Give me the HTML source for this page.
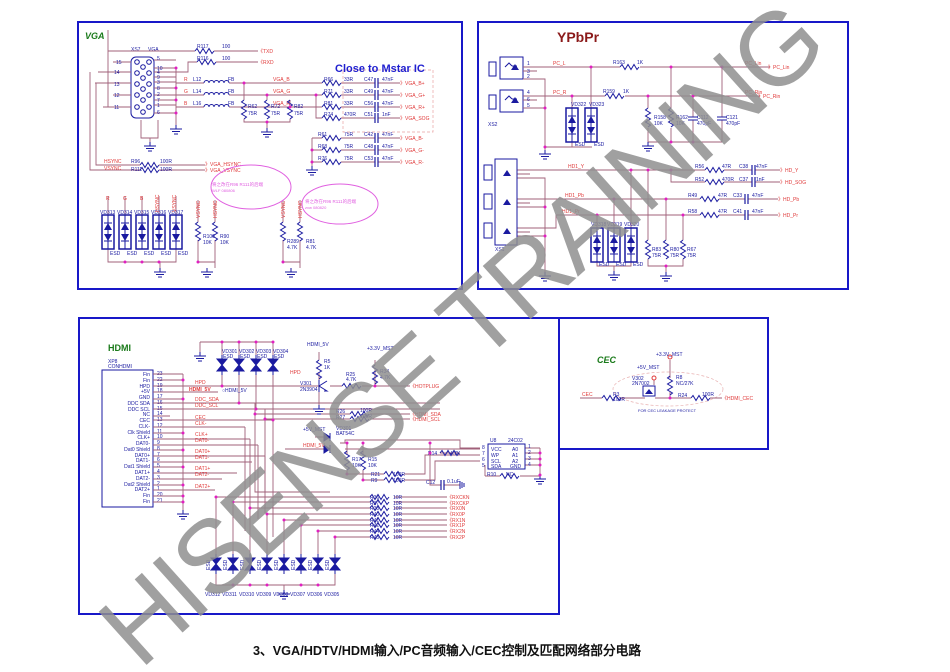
<!DOCTYPE html>
<html><head><meta charset="utf-8"><style>
html,body{margin:0;padding:0;background:#fff;width:950px;height:672px;overflow:hidden}
svg{display:block}
text{font-family:"Liberation Sans",sans-serif}
.t{font-size:5px;fill:#1a1aa0}
.n{font-size:5px;fill:#e03a3a}
.w{fill:none;stroke:#a0607a;stroke-width:0.9}
.b{fill:none;stroke:#1a1aa0;stroke-width:1}
</style></head><body>
<svg width="950" height="672" viewBox="0 0 950 672" xmlns="http://www.w3.org/2000/svg">
<defs>
<g id="rh"><path d="M0 0 l2 -2.5 l3 5 l3 -5 l3 5 l3 -5 l3 5 l2 -2.5" fill="none" stroke="#1a1aa0" stroke-width="1"/></g>
<g id="rv"><path d="M0 0 l-2.5 2 l5 3 l-5 3 l5 3 l-5 3 l5 3 l-2.5 2" fill="none" stroke="#1a1aa0" stroke-width="1"/></g>
<g id="gnd"><path d="M0 -4v4M-6 0h12M-4 2.5h8M-2 5h4" stroke="#1a1aa0" stroke-width="1"/></g>
<g id="esd"><rect x="-6" y="0" width="12" height="34" fill="none" stroke="#1a1aa0" stroke-width="1.5"/><path d="M0 0v34M-4 8h8M-4 26h8" stroke="#1a1aa0"/><path d="M-4 15l4 -7l4 7z M-4 19l4 7l4 -7z" fill="#1a1aa0"/></g>
<g id="bt"><path d="M-5 0h10l-10 12h10z" fill="#1a1aa0" stroke="#1a1aa0"/><path d="M0 -4v20" stroke="#1a1aa0"/></g>
<g id="cap"><path d="M0 -5v10M3 -5v10" stroke="#1a1aa0" stroke-width="1.2"/></g>
<g id="ind"><path d="M0 0 a2.5 2.5 0 0 1 5 0 a2.5 2.5 0 0 1 5 0 a2.5 2.5 0 0 1 5 0 a2.5 2.5 0 0 1 5 0 a2.5 2.5 0 0 1 5 0" fill="none" stroke="#1a1aa0"/></g>
<g id="jk"><rect x="0" y="0" width="23" height="22" fill="none" stroke="#1a1aa0"/><path d="M5 10l4 -4l3 3M12 9l5 0" stroke="#1a1aa0" fill="none"/><path d="M11 13l4 -6l4 6z" fill="#1a1aa0"/><rect x="-11" y="5" width="7" height="14" fill="none" stroke="#1a1aa0"/></g>
</defs>

<!-- ===== Frames ===== -->
<rect x="78" y="22" width="384" height="267" fill="none" stroke="#1818c8" stroke-width="2"/>
<rect x="478" y="22" width="370" height="267" fill="none" stroke="#1818c8" stroke-width="2"/>
<rect x="79" y="318" width="480" height="296" fill="none" stroke="#1818c8" stroke-width="2"/>
<path d="M559 318H768V449H559" fill="none" stroke="#1818c8" stroke-width="2"/>

<!-- ===== VGA ===== -->
<text x="85" y="39" font-size="9" font-weight="bold" font-style="italic" fill="#1a7a1a">VGA</text>
<text x="131" y="51" class="t">XS7</text><text x="148" y="51" class="t">VGA</text>
<rect x="131" y="57" width="23" height="61" rx="5" class="b"/>
<g fill="none" stroke="#1a1aa0">
<circle cx="137" cy="62" r="2.3"/><circle cx="137" cy="73" r="2.3"/><circle cx="137" cy="84" r="2.3"/><circle cx="137" cy="95" r="2.3"/><circle cx="137" cy="107" r="2.3"/>
<circle cx="143" cy="67" r="2.3"/><circle cx="143" cy="78" r="2.3"/><circle cx="143" cy="89" r="2.3"/><circle cx="143" cy="100" r="2.3"/><circle cx="143" cy="112" r="2.3"/>
<circle cx="149" cy="62" r="2.3"/><circle cx="149" cy="73" r="2.3"/><circle cx="149" cy="84" r="2.3"/><circle cx="149" cy="95" r="2.3"/><circle cx="149" cy="107" r="2.3"/>
</g>
<g class="w">
<path d="M113 62H131M98 72H131M95 83H131M113 95H131M103 107H131"/>
<path d="M108 107V30M108 51H195M214 51H258"/>
<path d="M154 60H176M154 68H176M154 72H188V62H197M216 62H258M154 77H176M154 82H176M154 88H176M154 95H176M154 100H176M154 105H176M154 113H176M176 68V125"/>
<path d="M176 83H204M229 83H322M341 83H375M378 83H400"/>
<path d="M176 95H204M229 95H322M341 95H375M378 95H400"/>
<path d="M176 107H204M229 107H322M341 107H375M378 107H400"/>
<path d="M316 95V118H322M341 118H375M378 118H400"/>
<path d="M244 83V100M267 95V100M290 107V100M244 119V122H290V119M267 122V128"/>
<path d="M312 138V166M312 138H322M341 138H375M378 138H400M312 150H322M341 150H375M378 150H400M312 162H322M341 162H375M378 162H400"/>
<path d="M96 83V165H140M159 165H205M90 72V170H140M159 170H205"/>
<path d="M141 120V138H158V120M150 138V142"/>
<path d="M108 196V215M125 196V215M142 196V215M159 196V215M176 196V215M108 249V262H176V249M160 262V268"/>
<path d="M198 200V222M198 240V262M215 200V222M215 240V262M198 262H215V268"/>
<path d="M283 200V222M283 240V262M300 200V222M300 240V262M283 262H300V268"/>
</g>
<g class="t"><text x="116" y="64">15</text><text x="114" y="74">14</text><text x="114" y="86">13</text><text x="114" y="97">12</text><text x="114" y="109">11</text>
<text x="157" y="60">5</text><text x="157" y="70">10</text><text x="157" y="74">4</text><text x="157" y="79">9</text><text x="157" y="84">3</text><text x="157" y="90">8</text><text x="157" y="96">2</text><text x="157" y="102">7</text><text x="157" y="107">1</text><text x="157" y="114">6</text>
<text x="197" y="48">R117</text><text x="222" y="48">100</text><text x="197" y="60">R116</text><text x="222" y="60">100</text>
<text x="193" y="81">L12</text><text x="228" y="81">FB</text><text x="193" y="93">L14</text><text x="228" y="93">FB</text><text x="193" y="105">L16</text><text x="228" y="105">FB</text>
<text x="324" y="81">R66</text><text x="344" y="81">33R</text><text x="364" y="81">C47</text><text x="382" y="81">47nF</text>
<text x="324" y="93">R71</text><text x="344" y="93">33R</text><text x="364" y="93">C49</text><text x="382" y="93">47nF</text>
<text x="324" y="105">R81</text><text x="344" y="105">33R</text><text x="364" y="105">C56</text><text x="382" y="105">47nF</text>
<text x="324" y="116">R74</text><text x="344" y="116">470R</text><text x="364" y="116">C51</text><text x="382" y="116">1nF</text>
<text x="318" y="136">R61</text><text x="344" y="136">75R</text><text x="364" y="136">C42</text><text x="382" y="136">47nF</text>
<text x="318" y="148">R68</text><text x="344" y="148">75R</text><text x="364" y="148">C48</text><text x="382" y="148">47nF</text>
<text x="318" y="160">R76</text><text x="344" y="160">75R</text><text x="364" y="160">C53</text><text x="382" y="160">47nF</text>
<text x="248" y="108">R62</text><text x="248" y="115">75R</text><text x="271" y="108">R72</text><text x="271" y="115">75R</text><text x="294" y="108">R82</text><text x="294" y="115">75R</text>
<text x="131" y="163">R96</text><text x="160" y="163">100R</text><text x="131" y="171">R111</text><text x="160" y="171">100R</text>
<text x="100" y="214">VD313</text><text x="117" y="214">VD314</text><text x="134" y="214">VD315</text><text x="151" y="214">VD316</text><text x="168" y="214">VD317</text>
<text x="110" y="255">ESD</text><text x="127" y="255">ESD</text><text x="144" y="255">ESD</text><text x="161" y="255">ESD</text><text x="178" y="255">ESD</text>
<text x="203" y="238">R100</text><text x="203" y="244">10K</text><text x="220" y="238">R90</text><text x="220" y="244">10K</text>
<text x="287" y="243">R289</text><text x="287" y="249">4.7K</text><text x="306" y="243">R81</text><text x="306" y="249">4.7K</text>
</g>
<g class="n"><text x="184" y="81">R</text><text x="184" y="93">G</text><text x="184" y="105">B</text>
<text x="273" y="81">VGA_B</text><text x="273" y="93">VGA_G</text><text x="273" y="105">VGA_R</text>
<text x="258" y="53">《TXD</text><text x="258" y="64">《RXD</text>
<text x="400" y="85">》VGA_B+</text><text x="400" y="97">》VGA_G+</text><text x="400" y="109">》VGA_R+</text><text x="400" y="120">》VGA_SOG</text>
<text x="400" y="140">》VGA_B-</text><text x="400" y="152">》VGA_G-</text><text x="400" y="164">》VGA_R-</text>
<text x="104" y="163">HSYNC</text><text x="104" y="170">VSYNC</text>
<text x="205" y="166">》VGA_HSYNC</text><text x="205" y="172">》VGA_VSYNC</text>
<text x="106" y="200">R</text><text x="123" y="200">G</text><text x="140" y="200">B</text>
</g>
<g font-size="5" fill="#e03a3a"><text transform="translate(159,212) rotate(-90)">HSYNC</text><text transform="translate(176,212) rotate(-90)">VSYNC</text>
<text transform="translate(200,218) rotate(-90)">VSYNC</text><text transform="translate(217,218) rotate(-90)">HSYNC</text>
<text transform="translate(285,218) rotate(-90)">VSYNC</text><text transform="translate(302,218) rotate(-90)">HSYNC</text></g>
<g><use href="#ind" x="204" y="83"/><use href="#ind" x="204" y="95"/><use href="#ind" x="204" y="107"/>
<use href="#rh" x="195" y="51"/><use href="#rh" x="197" y="62"/>
<use href="#rh" x="322" y="83"/><use href="#rh" x="322" y="95"/><use href="#rh" x="322" y="107"/><use href="#rh" x="322" y="118"/>
<use href="#rh" x="322" y="138"/><use href="#rh" x="322" y="150"/><use href="#rh" x="322" y="162"/>
<use href="#cap" x="375" y="83"/><use href="#cap" x="375" y="95"/><use href="#cap" x="375" y="107"/><use href="#cap" x="375" y="118"/>
<use href="#cap" x="375" y="138"/><use href="#cap" x="375" y="150"/><use href="#cap" x="375" y="162"/>
<use href="#rv" x="244" y="100"/><use href="#rv" x="267" y="100"/><use href="#rv" x="290" y="100"/>
<use href="#rh" x="140" y="165"/><use href="#rh" x="140" y="170"/>
<use href="#esd" x="108" y="215"/><use href="#esd" x="125" y="215"/><use href="#esd" x="142" y="215"/><use href="#esd" x="159" y="215"/><use href="#esd" x="176" y="215"/>
<use href="#rv" x="198" y="222"/><use href="#rv" x="215" y="222"/><use href="#rv" x="283" y="222"/><use href="#rv" x="300" y="222"/>
<use href="#gnd" x="176" y="129"/><use href="#gnd" x="150" y="146"/><use href="#gnd" x="267" y="132"/><use href="#gnd" x="312" y="170"/>
<use href="#gnd" x="160" y="272"/><use href="#gnd" x="207" y="272"/><use href="#gnd" x="291" y="272"/></g>
<g fill="#e020c0"><circle cx="176" cy="68" r="1.5"/><circle cx="176" cy="88" r="1.5"/><circle cx="176" cy="100" r="1.5"/><circle cx="176" cy="113" r="1.5"/>
<circle cx="244" cy="83" r="1.5"/><circle cx="267" cy="95" r="1.5"/><circle cx="290" cy="107" r="1.5"/><circle cx="267" cy="122" r="1.5"/><circle cx="316" cy="95" r="1.5"/>
<circle cx="312" cy="150" r="1.5"/><circle cx="312" cy="162" r="1.5"/><circle cx="125" cy="262" r="1.5"/><circle cx="142" cy="262" r="1.5"/><circle cx="159" cy="262" r="1.5"/><circle cx="198" cy="262" r="1.5"/><circle cx="283" cy="262" r="1.5"/></g>
<rect x="343" y="70" width="90" height="62" fill="none" stroke="#e8a0a0" stroke-dasharray="3,2" stroke-width="0.7"/>
<text x="335" y="72" font-family="Liberation Mono,monospace" font-size="11" font-weight="bold" fill="#2020d0">Close to Mstar IC</text>
<ellipse cx="251" cy="187" rx="40" ry="22" fill="none" stroke="#e060e0"/>
<ellipse cx="340" cy="204" rx="38" ry="20" fill="none" stroke="#e060e0"/>
<text x="212" y="186" font-family="Noto Sans CJK SC,sans-serif" font-size="4.5" fill="#e060e0">将之改在R96 R111的后端</text>
<text x="212" y="192" font-size="4" fill="#e060e0">WLF 080806</text>
<text x="305" y="203" font-family="Noto Sans CJK SC,sans-serif" font-size="4.5" fill="#e060e0">将之改在R96 R111的后端</text>
<text x="305" y="209" font-size="4" fill="#e060e0">zxw 080820</text>

<!-- ===== YPbPr ===== -->
<text x="557" y="42" font-family="Liberation Serif,serif" font-size="14" font-weight="bold" fill="#8b1a1a">YPbPr</text>
<use href="#jk" x="500" y="57"/><use href="#jk" x="500" y="90"/>
<text x="488" y="126" class="t">XS2</text>
<g class="w">
<path d="M523 67H620M640 67H770M523 71H537M523 79H545V150M523 96H605M625 96H760M523 100H537M523 108H545"/>
<path d="M545 147H592M591 67V108M572 96V108M572 142V147"/>
<path d="M648 96V108M648 128V142H722M671 67V108M671 128V142M693 96V117M693 120V142M722 67V117M722 120V142"/>
<path d="M517 170H705M724 170H752M755 170H780M671 170V182H705M724 182H752M755 182H780"/>
<path d="M517 199H700M719 199H745M748 199H778M517 228H556V215H700M719 215H745M748 215H778"/>
<path d="M517 174H530M517 178H545V272M517 203H530M517 207H545M517 232H530M517 236H545"/>
<path d="M597 215V228M614 199V228M631 170V228M597 262V266H631V262M614 266V271"/>
<path d="M648 170V240M648 259V266H683V259M666 199V240M683 215V240M666 266V272"/>
</g>
<rect x="495" y="159" width="22" height="86" class="b"/>
<g class="b"><rect x="484" y="165" width="8" height="15"/><rect x="484" y="194" width="8" height="15"/><rect x="484" y="223" width="8" height="15"/></g>
<g fill="#1a1aa0"><path d="M503 176l4 -6l4 6z M503 205l4 -6l4 6z M503 234l4 -6l4 6z"/></g>
<text x="495" y="251" class="t">XS1</text>
<g class="t"><text x="527" y="65">1</text><text x="527" y="73">3</text><text x="527" y="78">2</text><text x="527" y="94">4</text><text x="527" y="101">6</text><text x="527" y="107">5</text>
<text x="613" y="64">R163</text><text x="637" y="64">1K</text><text x="603" y="93">R159</text><text x="623" y="93">1K</text>
<text x="654" y="119">R158</text><text x="654" y="125">10K</text><text x="676" y="119">R162</text><text x="676" y="125">10K</text>
<text x="697" y="119">C112</text><text x="697" y="125">470pF</text><text x="726" y="119">C121</text><text x="726" y="125">470pF</text>
<text x="571" y="106">VD322</text><text x="589" y="106">VD323</text><text x="575" y="146">ESD</text><text x="594" y="146">ESD</text>
<text x="695" y="168">R56</text><text x="722" y="168">47R</text><text x="739" y="168">C38</text><text x="756" y="168">47nF</text>
<text x="695" y="181">R52</text><text x="722" y="181">470R</text><text x="739" y="181">C37</text><text x="756" y="181">1nF</text>
<text x="688" y="197">R49</text><text x="718" y="197">47R</text><text x="733" y="197">C33</text><text x="752" y="197">47nF</text>
<text x="688" y="213">R58</text><text x="718" y="213">47R</text><text x="733" y="213">C41</text><text x="752" y="213">47nF</text>
<text x="591" y="226">VD318</text><text x="607" y="226">VD319</text><text x="624" y="226">VD320</text>
<text x="599" y="266">ESD</text><text x="616" y="266">ESD</text><text x="633" y="266">ESD</text>
<text x="652" y="251">R83</text><text x="652" y="257">75R</text><text x="670" y="251">R80</text><text x="670" y="257">75R</text><text x="687" y="251">R67</text><text x="687" y="257">75R</text>
</g>
<g class="n"><text x="553" y="65">PC_L</text><text x="553" y="94">PC_R</text><text x="745" y="65">PC_Lin</text><text x="745" y="94">PC_Rin</text>
<text x="768" y="69">》PC_Lin</text><text x="758" y="98">》PC_Rin</text>
<text x="568" y="168">HD1_Y</text><text x="565" y="197">HD1_Pb</text><text x="562" y="213">HD1_Pr</text>
<text x="780" y="172">》HD_Y</text><text x="780" y="184">》HD_SOG</text><text x="778" y="201">》HD_Pb</text><text x="778" y="217">》HD_Pr</text></g>
<g><use href="#rh" x="620" y="67"/><use href="#rh" x="605" y="96"/>
<use href="#rv" x="648" y="108"/><use href="#rv" x="671" y="108"/>
<path d="M688 117h10M688 120h10M717 117h10M717 120h10" stroke="#1a1aa0"/>
<use href="#esd" x="572" y="108"/><use href="#esd" x="591" y="108"/>
<use href="#rh" x="705" y="170"/><use href="#rh" x="705" y="182"/><use href="#rh" x="700" y="199"/><use href="#rh" x="700" y="215"/>
<use href="#cap" x="752" y="170"/><use href="#cap" x="752" y="182"/><use href="#cap" x="745" y="199"/><use href="#cap" x="745" y="215"/>
<use href="#esd" x="597" y="228"/><use href="#esd" x="614" y="228"/><use href="#esd" x="631" y="228"/>
<use href="#rv" x="648" y="240"/><use href="#rv" x="666" y="240"/><use href="#rv" x="683" y="240"/>
<use href="#gnd" x="545" y="154"/><use href="#gnd" x="648" y="146"/><use href="#gnd" x="545" y="276"/><use href="#gnd" x="614" y="275"/><use href="#gnd" x="666" y="276"/></g>
<g fill="#e020c0"><circle cx="591" cy="67" r="1.5"/><circle cx="671" cy="67" r="1.5"/><circle cx="722" cy="67" r="1.5"/><circle cx="648" cy="96" r="1.5"/><circle cx="693" cy="96" r="1.5"/><circle cx="572" cy="96" r="1.5"/>
<circle cx="545" cy="108" r="1.5"/><circle cx="545" cy="147" r="1.5"/><circle cx="671" cy="142" r="1.5"/><circle cx="693" cy="142" r="1.5"/>
<circle cx="631" cy="170" r="1.5"/><circle cx="648" cy="170" r="1.5"/><circle cx="671" cy="170" r="1.5"/><circle cx="614" cy="199" r="1.5"/><circle cx="666" cy="199" r="1.5"/><circle cx="597" cy="215" r="1.5"/><circle cx="683" cy="215" r="1.5"/>
<circle cx="545" cy="207" r="1.5"/><circle cx="545" cy="236" r="1.5"/><circle cx="666" cy="266" r="1.5"/></g>

<!-- ===== HDMI ===== -->
<text x="108" y="351" font-size="9" font-weight="bold" fill="#1a7a1a">HDMI</text>
<text x="108" y="363" class="t">XP8</text><text x="108" y="368" class="t">CONHDMI</text>
<rect x="102" y="370" width="51" height="137" class="b"/>
<g class="t" text-anchor="end">
<text x="150" y="376">Fin</text><text x="150" y="382">Fin</text><text x="150" y="388">HPD</text><text x="150" y="393">+5V</text><text x="150" y="399">GND</text><text x="150" y="405">DDC SDA</text><text x="150" y="411">DDC SCL</text><text x="150" y="416">NC</text><text x="150" y="422">CEC</text><text x="150" y="428">CLK-</text><text x="150" y="434">Clk Shield</text><text x="150" y="439">CLK+</text><text x="150" y="445">DAT0-</text><text x="150" y="451">Dat0 Shield</text><text x="150" y="457">DAT0+</text><text x="150" y="462">DAT1-</text><text x="150" y="468">Dat1 Shield</text><text x="150" y="474">DAT1+</text><text x="150" y="480">DAT2-</text><text x="150" y="486">Dat2 Shield</text><text x="150" y="491">DAT2+</text><text x="150" y="497">Fin</text><text x="150" y="503">Fin</text>
</g>
<g class="t"><text x="157" y="375">23</text><text x="157" y="381">22</text><text x="157" y="387">19</text><text x="157" y="392">18</text><text x="157" y="398">17</text><text x="157" y="404">16</text><text x="157" y="410">15</text><text x="157" y="415">14</text><text x="157" y="421">13</text><text x="157" y="427">12</text><text x="157" y="433">11</text><text x="157" y="438">10</text><text x="157" y="444">9</text><text x="157" y="450">8</text><text x="157" y="456">7</text><text x="157" y="461">6</text><text x="157" y="467">5</text><text x="157" y="473">4</text><text x="157" y="479">3</text><text x="157" y="485">2</text><text x="157" y="490">1</text><text x="157" y="496">20</text><text x="157" y="502">21</text></g>
<g class="w">
<path d="M153 374H183M153 380H183M153 399H183M153 433H183M153 450H183M153 467H183M153 485H183M153 496H183M153 502H183M183 374V510"/>
<path d="M153 386H320M153 392H218M153 403H440M153 409H440M153 416H170M153 420H273M153 427H245M153 439H250M153 445H258M153 456H265M153 462H252M153 473H237M153 479H222M153 490H215"/>
<path d="M200 342H273M200 342V352M222 342V357M239 342V357M256 342V357M273 342V357M222 372V386M239 372V403M256 372V409M273 372V420"/>
<path d="M319 360V352M319 372V380M300 386H319M330 386H342M362 386H410M375 370V386M375 360V365M319 392V405"/>
<path d="M255 414H350M370 414H410M265 419H350M370 419H410M255 403V492H330M265 409V492"/>
<path d="M273 420V537M245 427V531M250 439V525M258 445V519M265 456V513"/>
<path d="M315 437H330M285 449H330M340 443H345V440H460V448H480M345 449H480M347 443V455M363 443V455M347 470V474H384M363 470V480H384M404 474H425V455H480M404 480H435V461H480M440 453H460"/>
<path d="M430 443V485H441M444 485H460"/>
<path d="M525 448H540M525 453H540M525 459H540M525 465H540M540 448V475M520 476H540M485 476H500M485 465V476"/>
<path d="M216 497H370M233 502H370M250 508H370M267 514H370M284 520H370M301 525H370M318 531H370M335 537H370"/>
<path d="M394 497H447M394 502H447M394 508H447M394 514H447M394 520H447M394 525H447M394 531H447M394 537H447"/>
<path d="M216 497V555M233 502V555M250 508V555M267 514V555M284 520V555M301 525V555M318 531V555M335 537V555M216 572V585H335V572M284 585V590"/>
</g>
<g><use href="#bt" x="222" y="359"/><use href="#bt" x="239" y="359"/><use href="#bt" x="256" y="359"/><use href="#bt" x="273" y="359"/>
<use href="#rv" x="319" y="360"/><use href="#rv" x="375" y="365"/><use href="#rh" x="342" y="386"/>
<path d="M319 380V392M319 386l8 -5M319 386l8 5l-3 0" stroke="#1a1aa0" fill="none"/>
<use href="#rh" x="350" y="414"/><use href="#rh" x="350" y="419"/>
<path d="M330 433v8M330 437l-6 -4v8z M330 445v8M330 449l-6 -4v8z" fill="#1a1aa0" stroke="#1a1aa0"/>
<use href="#rv" x="347" y="451"/><use href="#rv" x="363" y="451"/>
<use href="#rh" x="440" y="453"/><use href="#rh" x="384" y="474"/><use href="#rh" x="384" y="480"/><use href="#rh" x="500" y="476"/>
<use href="#cap" x="441" y="485"/>
<use href="#rh" x="370" y="497"/><use href="#rh" x="370" y="502"/><use href="#rh" x="370" y="508"/><use href="#rh" x="370" y="514"/><use href="#rh" x="370" y="520"/><use href="#rh" x="370" y="525"/><use href="#rh" x="370" y="531"/><use href="#rh" x="370" y="537"/>
<use href="#bt" x="216" y="558"/><use href="#bt" x="233" y="558"/><use href="#bt" x="250" y="558"/><use href="#bt" x="267" y="558"/><use href="#bt" x="284" y="558"/><use href="#bt" x="301" y="558"/><use href="#bt" x="318" y="558"/><use href="#bt" x="335" y="558"/>
<use href="#gnd" x="200" y="356"/><use href="#gnd" x="183" y="514"/><use href="#gnd" x="319" y="409"/><use href="#gnd" x="540" y="479"/><use href="#gnd" x="284" y="594"/>
<path d="M460 481v8M462 482v6M464 483v4" stroke="#1a1aa0"/></g>
<rect x="488" y="444" width="37" height="25" class="b"/>
<g class="t"><text x="490" y="442">U8</text><text x="508" y="442">24C02</text><text x="491" y="451">VCC</text><text x="491" y="457">WP</text><text x="491" y="463">SCL</text><text x="491" y="468">SDA</text><text x="512" y="451">A0</text><text x="512" y="457">A1</text><text x="512" y="463">A2</text><text x="510" y="468">GND</text>
<text x="482" y="449">8</text><text x="482" y="455">7</text><text x="482" y="461">6</text><text x="482" y="467">5</text><text x="528" y="448">1</text><text x="528" y="454">2</text><text x="528" y="460">3</text><text x="528" y="466">4</text>
<text x="222" y="353">VD301</text><text x="239" y="353">VD302</text><text x="256" y="353">VD303</text><text x="273" y="353">VD304</text>
<text x="223" y="358">ESD</text><text x="240" y="358">ESD</text><text x="257" y="358">ESD</text><text x="274" y="358">ESD</text>
<text x="307" y="346">HDMI_5V</text><text x="324" y="363">R5</text><text x="324" y="369">1K</text>
<text x="300" y="385">V301</text><text x="300" y="391">2N3904</text>
<text x="346" y="376">R25</text><text x="346" y="381">4.7K</text><text x="367" y="350">+3.3V_MST</text><text x="380" y="373">R34</text><text x="380" y="379">4.7K</text>
<text x="336" y="413">R26</text><text x="336" y="419">R27</text><text x="360" y="412">100R</text><text x="360" y="418">100R</text>
<text x="303" y="431">+5V_MST</text><text x="336" y="430">VD301</text><text x="336" y="435">BAT54C</text>
<text x="352" y="461">R17</text><text x="352" y="467">10K</text><text x="368" y="461">R15</text><text x="368" y="467">10K</text>
<text x="428" y="455">R14</text><text x="450" y="455">4.7K</text>
<text x="371" y="476">R21</text><text x="371" y="482">R9</text><text x="393" y="476">100R</text><text x="393" y="482">100R</text>
<text x="426" y="484">C12</text><text x="447" y="483">0.1uF</text><text x="487" y="476">R10</text><text x="506" y="476">NC</text>
<text x="370" y="499">R36</text><text x="370" y="505">R37</text><text x="370" y="510">R38</text><text x="370" y="516">R40</text><text x="370" y="522">R41</text><text x="370" y="527">R42</text><text x="370" y="533">R44</text><text x="370" y="539">R45</text>
<text x="393" y="499">10R</text><text x="393" y="505">10R</text><text x="393" y="510">10R</text><text x="393" y="516">10R</text><text x="393" y="522">10R</text><text x="393" y="527">10R</text><text x="393" y="533">10R</text><text x="393" y="539">10R</text>
<text x="205" y="596">VD312</text><text x="222" y="596">VD311</text><text x="239" y="596">VD310</text><text x="256" y="596">VD309</text><text x="273" y="596">VD308</text><text x="290" y="596">VD307</text><text x="307" y="596">VD306</text><text x="324" y="596">VD305</text>
</g>
<g class="n"><text x="195" y="384">HPD</text><text x="189" y="391" font-weight="bold">HDMI_5V</text><text x="222" y="392" fill="#1a1aa0">○HDMI_5V</text>
<text x="195" y="401">DDC_SDA</text><text x="195" y="407">DDC_SCL</text><text x="195" y="419">CEC</text><text x="195" y="425">CLK-</text><text x="195" y="436">CLK+</text><text x="195" y="442">DAT0-</text><text x="195" y="453">DAT0+</text><text x="195" y="459">DAT1-</text><text x="195" y="470">DAT1+</text><text x="195" y="476">DAT2-</text><text x="195" y="488">DAT2+</text>
<text x="290" y="374">HPD</text><text x="410" y="388">《HOTPLUG</text><text x="410" y="416">《HDMI_SDA</text><text x="410" y="421">《HDMI_SCL</text><text x="303" y="447">HDMI_5V</text>
<text x="447" y="499">《RXCKN</text><text x="447" y="505">《RXCKP</text><text x="447" y="510">《RX0N</text><text x="447" y="516">《RX0P</text><text x="447" y="522">《RX1N</text><text x="447" y="527">《RX1P</text><text x="447" y="533">《RX2N</text><text x="447" y="539">《RX2P</text></g>
<g font-size="5" fill="#1a1aa0"><text transform="translate(210,570) rotate(-90)">ESD</text><text transform="translate(227,570) rotate(-90)">ESD</text><text transform="translate(244,570) rotate(-90)">ESD</text><text transform="translate(261,570) rotate(-90)">ESD</text><text transform="translate(278,570) rotate(-90)">ESD</text><text transform="translate(295,570) rotate(-90)">ESD</text><text transform="translate(312,570) rotate(-90)">ESD</text><text transform="translate(329,570) rotate(-90)">ESD</text></g>
<g fill="#e020c0"><circle cx="183" cy="380" r="1.5"/><circle cx="183" cy="399" r="1.5"/><circle cx="183" cy="433" r="1.5"/><circle cx="183" cy="450" r="1.5"/><circle cx="183" cy="467" r="1.5"/><circle cx="183" cy="485" r="1.5"/><circle cx="183" cy="496" r="1.5"/><circle cx="183" cy="502" r="1.5"/>
<circle cx="222" cy="342" r="1.5"/><circle cx="239" cy="342" r="1.5"/><circle cx="256" cy="342" r="1.5"/><circle cx="273" cy="342" r="1.5"/><circle cx="222" cy="386" r="1.5"/><circle cx="239" cy="403" r="1.5"/><circle cx="256" cy="409" r="1.5"/><circle cx="273" cy="420" r="1.5"/>
<circle cx="375" cy="386" r="1.5"/><circle cx="255" cy="414" r="1.5"/><circle cx="265" cy="419" r="1.5"/><circle cx="347" cy="443" r="1.5"/><circle cx="363" cy="443" r="1.5"/><circle cx="347" cy="474" r="1.5"/><circle cx="363" cy="480" r="1.5"/><circle cx="430" cy="443" r="1.5"/><circle cx="430" cy="453" r="1.5"/>
<circle cx="540" cy="453" r="1.5"/><circle cx="540" cy="459" r="1.5"/><circle cx="540" cy="465" r="1.5"/><circle cx="540" cy="475" r="1.5"/>
<circle cx="216" cy="497" r="1.5"/><circle cx="233" cy="502" r="1.5"/><circle cx="250" cy="508" r="1.5"/><circle cx="267" cy="514" r="1.5"/><circle cx="284" cy="520" r="1.5"/><circle cx="301" cy="525" r="1.5"/><circle cx="318" cy="531" r="1.5"/><circle cx="335" cy="537" r="1.5"/>
<circle cx="233" cy="585" r="1.5"/><circle cx="250" cy="585" r="1.5"/><circle cx="267" cy="585" r="1.5"/><circle cx="301" cy="585" r="1.5"/><circle cx="318" cy="585" r="1.5"/></g>

<!-- ===== CEC ===== -->
<text x="597" y="363" font-size="9" font-weight="bold" font-style="italic" fill="#1a7a1a">CEC</text>
<ellipse cx="668" cy="389" rx="55" ry="17" fill="none" stroke="#e8b0b0" stroke-dasharray="3,2" stroke-width="0.7"/>
<g class="w"><path d="M580 398H602M620 398H645M655 398H691M710 398H722M654 380V385M670 360V378M670 392V398"/></g>
<use href="#rh" x="602" y="398"/><use href="#rh" x="691" y="398"/><use href="#rv" x="670" y="376"/>
<rect x="643" y="386" width="12" height="10" class="b"/><path d="M645 394l4 -5l4 5z" fill="#1a1aa0"/>
<circle cx="670" cy="357" r="2" fill="none" stroke="#e03a3a"/><circle cx="654" cy="378" r="2" fill="none" stroke="#e03a3a"/>
<circle cx="670" cy="398" r="1.5" fill="#e020c0"/>
<g class="t"><text x="656" y="356">+3.3V_MST</text><text x="637" y="369">+5V_MST</text><text x="632" y="380">V302</text><text x="632" y="385">2N7002</text><text x="676" y="379">R8</text><text x="676" y="385">NC/27K</text>
<text x="613" y="396">R3</text><text x="613" y="401">100R</text><text x="678" y="397">R24</text><text x="702" y="396">100R</text>
<text x="638" y="412" font-family="Liberation Mono,monospace" font-size="4">FOR CEC LEAKAGE PROTECT</text></g>
<g class="n"><text x="582" y="396">CEC</text><text x="722" y="400">《HDMI_CEC</text></g>

<!-- ===== Watermark ===== -->
<text x="461" y="369" text-anchor="middle" font-size="104" fill="#8f8f8f" fill-opacity="0.85" textLength="930" lengthAdjust="spacing" transform="rotate(-42 461 332)">HISENSE TRAINING</text>

<!-- ===== Caption ===== -->
<text x="253" y="655" font-family="'Liberation Sans Narrow','Liberation Sans','Noto Sans CJK SC',sans-serif" font-size="13" font-weight="bold" fill="#111" textLength="388" lengthAdjust="spacingAndGlyphs">3、VGA/HDTV/HDMI输入/PC音频输入/CEC控制及匹配网络部分电路</text>
</svg>
</body></html>
